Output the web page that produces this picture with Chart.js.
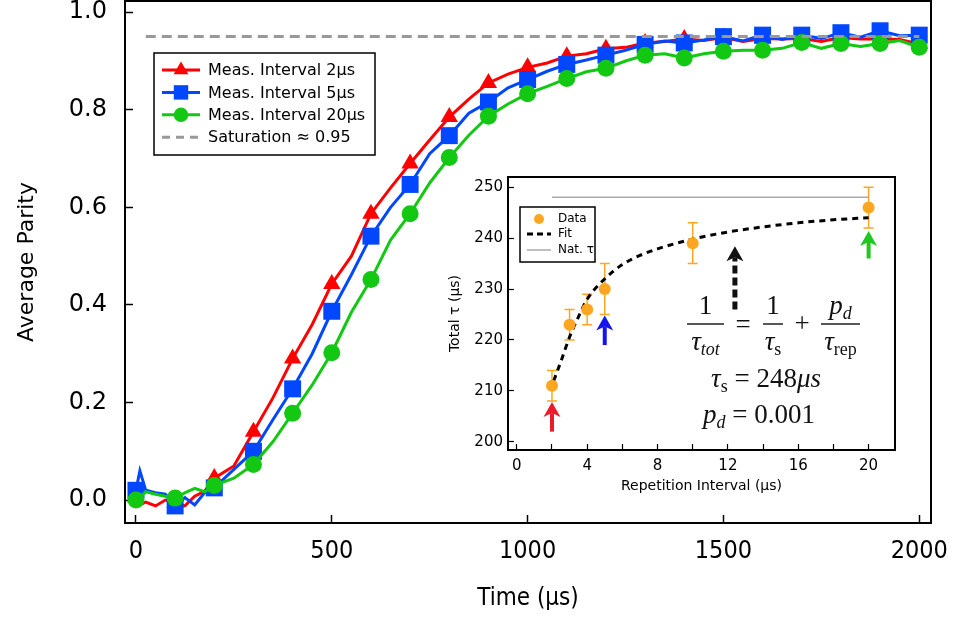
<!DOCTYPE html>
<html>
<head>
<meta charset="utf-8">
<script src="https://cdn.jsdelivr.net/npm/chart.js@4.4.1/dist/chart.umd.min.js"></script>
<style>
  html, body { margin: 0; padding: 0; background: #fff; }
  #wrap { position: relative; width: 955px; height: 617px; }
  #main { position: absolute; left: 0; top: 0; }
  #inset { position: absolute; left: 440px; top: 170px; }
</style>
</head>
<body>
<div id="wrap">
  <canvas id="main" width="955" height="617"></canvas>
  <canvas id="inset" width="480" height="330"></canvas>
</div>
<script>
// main panel: average parity vs time
const times = [0, 10, 25, 50, 75, 100, 125, 150, 175, 200, 250, 300, 350, 400, 450, 500, 550, 600, 650, 700,
  750, 800, 850, 900, 950, 1000, 1050, 1100, 1150, 1200, 1250, 1300, 1350, 1400, 1450, 1500, 1550, 1600,
  1650, 1700, 1750, 1800, 1850, 1900, 1950, 2000];
const parity2us = [0.005, -0.01, -0.004, -0.012, 0.0, -0.006, -0.012, 0.008, 0.018, 0.045, 0.07, 0.14, 0.21,
  0.29, 0.36, 0.443, 0.5, 0.587, 0.64, 0.69, 0.738, 0.785, 0.822, 0.855, 0.873, 0.887, 0.896, 0.91, 0.915,
  0.925, 0.928, 0.937, 0.94, 0.945, 0.942, 0.948, 0.94, 0.946, 0.945, 0.946, 0.94, 0.948, 0.945, 0.945, 0.944, 0.935];
const parity5us = [0.02, 0.06, 0.02, 0.015, 0.012, -0.012, 0.005, -0.01, 0.015, 0.025, 0.063, 0.1, 0.165,
  0.228, 0.3, 0.387, 0.462, 0.541, 0.6, 0.647, 0.71, 0.747, 0.793, 0.816, 0.845, 0.862, 0.879, 0.893, 0.902,
  0.912, 0.922, 0.934, 0.941, 0.937, 0.943, 0.95, 0.941, 0.953, 0.944, 0.953, 0.946, 0.958, 0.949, 0.962, 0.952, 0.953];
const parity20us = [0.0, 0.005, 0.017, 0.012, 0.008, 0.004, 0.015, 0.024, 0.017, 0.03, 0.045, 0.073, 0.12,
  0.178, 0.236, 0.302, 0.385, 0.452, 0.533, 0.587, 0.65, 0.702, 0.748, 0.787, 0.812, 0.833, 0.848, 0.864, 0.878,
  0.885, 0.9, 0.912, 0.915, 0.906, 0.915, 0.92, 0.922, 0.922, 0.926, 0.938, 0.926, 0.936, 0.93, 0.936, 0.942, 0.928];
const saturationLevel = 0.95;
const saturationSpan = [25, 2000];
const timeTicks = [0, 500, 1000, 1500, 2000];
const parityTicks = [0, 0.2, 0.4, 0.6, 0.8, 1.0];
const seriesNames = ['Meas. Interval 2µs', 'Meas. Interval 5µs', 'Meas. Interval 20µs', 'Saturation ≈ 0.95'];

// inset: total tau vs repetition interval
const repInterval = [2, 3, 4, 5, 10, 20];
const totalTau = [211, 223, 226, 230, 239, 246];
const tauErr = [3, 3, 3, 5, 4, 4];
const fitInterval = [2.1, 2.5, 3, 3.5, 4, 5, 6, 7, 8, 10, 12, 14, 16, 18, 20];
const fitTau = [212, 215.7, 220.6, 224.5, 228, 232, 234.8, 236.6, 237.9, 239.8, 241.2, 242.2, 243, 243.6, 244];
const naturalTau = 248;
const naturalSpan = [2, 20];
const repTicks = [0, 2, 4, 6, 8, 10, 12, 14, 16, 18, 20];
const tauTicks = [200, 210, 220, 230, 240, 250];
const arrowAt = [2, 5, 20, 12.4];
const arrowFrom = [202, 219, 236, 226];
const arrowTo = [207.8, 224.8, 241.4, 238.4];
const insetNames = ['Data', 'Fit', 'Nat. τ'];

const RED = '#ff0000', BLUE = '#0047ff', GREEN = '#12c812', ORANGE = '#ffa620', GREY = '#999999';
const SANS = 'DejaVu Sans', NARROW = 'DejaVu Sans Condensed';
Chart.defaults.font.family = SANS;
Chart.defaults.color = '#000';

function pts(xs, ys) {
  return xs.map((x, i) => ({ x: x, y: ys[i] }));
}
function markerAt(r) {
  return ctx => (times[ctx.dataIndex] % 100 === 0 ? r : 0);
}

function drawMarker(ctx, style, x, y, r, color) {
  ctx.fillStyle = color;
  ctx.beginPath();
  if (style === 'triangle') {
    ctx.moveTo(x, y - r);
    ctx.lineTo(x + r * 0.866, y + r / 2);
    ctx.lineTo(x - r * 0.866, y + r / 2);
    ctx.closePath();
  } else if (style === 'rect') {
    let s = r * Math.SQRT1_2;
    ctx.rect(x - s, y - s, 2 * s, 2 * s);
  } else {
    ctx.arc(x, y, r, 0, Math.PI * 2);
  }
  ctx.fill();
}

const mainFrame = {
  id: 'mainFrame',
  afterDraw(chart) {
    const ctx = chart.ctx, ca = chart.chartArea;
    ctx.save();
    ctx.strokeStyle = '#000';
    ctx.lineWidth = 2;
    ctx.beginPath();
    ctx.moveTo(ca.left, ca.top);
    ctx.lineTo(ca.right, ca.top);
    ctx.lineTo(ca.right, ca.bottom);
    ctx.stroke();

    // legend box
    const bx = 154, by = 53, bw = 221, bh = 102;
    ctx.fillStyle = '#fff';
    ctx.fillRect(bx, by, bw, bh);
    ctx.lineWidth = 1.5;
    ctx.strokeRect(bx, by, bw, bh);
    const styles = ['triangle', 'rect', 'circle'];
    const radii = [10, 12, 8.5];
    const cols = [RED, BLUE, GREEN];
    ctx.font = '16px "' + SANS + '"';
    ctx.textBaseline = 'middle';
    seriesNames.forEach((name, i) => {
      const y = 70 + i * 22.4;
      ctx.lineWidth = 3;
      if (i < 3) {
        ctx.strokeStyle = cols[i];
        ctx.setLineDash([]);
        ctx.beginPath(); ctx.moveTo(162, y); ctx.lineTo(200, y); ctx.stroke();
        drawMarker(ctx, styles[i], 181, y, radii[i] * 0.85, cols[i]);
      } else {
        ctx.strokeStyle = GREY;
        ctx.setLineDash([8, 6]);
        ctx.beginPath(); ctx.moveTo(162, y); ctx.lineTo(200, y); ctx.stroke();
        ctx.setLineDash([]);
      }
      ctx.fillStyle = '#000';
      ctx.fillText(name, 208, y + 1);
    });
    ctx.restore();
  }
};

new Chart(document.getElementById('main'), {
  type: 'line',
  data: {
    datasets: [
      { label: seriesNames[3], data: [{ x: saturationSpan[0], y: saturationLevel }, { x: saturationSpan[1], y: saturationLevel }],
        borderColor: GREY, borderWidth: 3, borderDash: [10, 6], pointRadius: 0, order: 0 },
      { label: seriesNames[2], data: pts(times, parity20us), borderColor: GREEN, backgroundColor: GREEN,
        borderWidth: 3, pointStyle: 'circle', pointRadius: markerAt(8.5), pointBorderWidth: 0, order: 1 },
      { label: seriesNames[1], data: pts(times, parity5us), borderColor: BLUE, backgroundColor: BLUE,
        borderWidth: 3, pointStyle: 'rect', pointRadius: markerAt(12), pointBorderWidth: 0, order: 2 },
      { label: seriesNames[0], data: pts(times, parity2us), borderColor: RED, backgroundColor: RED,
        borderWidth: 3, pointStyle: 'triangle', pointRadius: markerAt(10), pointBorderWidth: 0, order: 3 }
    ]
  },
  options: {
    responsive: false,
    animation: false,
    events: [],
    layout: { autoPadding: false, padding: { left: 0, right: 24, top: 1, bottom: 0 } },
    plugins: { legend: { display: false }, tooltip: { enabled: false } },
    scales: {
      x: {
        type: 'linear', min: -28, max: 2030,
        afterBuildTicks: s => { s.ticks = timeTicks.map(v => ({ value: v })); },
        afterFit: s => { s.height = 94; s.paddingLeft = 0; s.paddingRight = 0; },
        border: { color: '#000', width: 2 },
        grid: { drawOnChartArea: false, tickLength: -8, tickColor: '#000', tickWidth: 1.5 },
        ticks: { autoSkip: false, maxRotation: 0, padding: 21, font: { family: NARROW, size: 25 }, callback: v => String(v) },
        title: { display: true, text: 'Time (µs)', font: { family: NARROW, size: 24 }, padding: { top: 0, bottom: 4 } }
      },
      y: {
        min: -0.047, max: 1.023,
        afterBuildTicks: s => { s.ticks = parityTicks.map(v => ({ value: v })); },
        afterFit: s => { s.width = 125; s.paddingTop = 0; s.paddingBottom = 0; },
        border: { color: '#000', width: 2 },
        grid: { drawOnChartArea: false, tickLength: -8, tickColor: '#000', tickWidth: 1.5 },
        ticks: { padding: 26, font: { size: 24 }, callback: v => v.toFixed(1) },
        title: { display: true, text: 'Average Parity', font: { size: 22 }, padding: { top: 14, bottom: 0 } }
      }
    }
  },
  plugins: [mainFrame]
});

// ---- inset ----
const serif = '"Liberation Serif", "DejaVu Serif", serif';
const M = {
  it: 'italic 27px ' + serif,
  rm: '27px ' + serif,
  subIt: 'italic 18px ' + serif,
  subRm: '18px ' + serif
};
function runWidth(ctx, parts) {
  return parts.reduce((w, p) => { ctx.font = p[1]; return w + ctx.measureText(p[0]).width; }, 0);
}
function drawRun(ctx, parts, x, y) {
  parts.forEach(p => { ctx.font = p[1]; ctx.fillText(p[0], x, y + (p[2] || 0)); x += ctx.measureText(p[0]).width; });
}
function drawCentered(ctx, parts, cx, y) {
  drawRun(ctx, parts, cx - runWidth(ctx, parts) / 2, y);
}
function drawFrac(ctx, num, den, x0, x1, barY) {
  ctx.fillRect(x0, barY - 0.7, x1 - x0, 1.4);
  const cx = (x0 + x1) / 2;
  drawCentered(ctx, num, cx, barY - 10);
  drawCentered(ctx, den, cx, barY + 26);
}

const insetDecor = {
  id: 'insetDecor',
  beforeDatasetsDraw(chart) {
    const ctx = chart.ctx, xs = chart.scales.x, ys = chart.scales.y;
    ctx.save();
    ctx.strokeStyle = ORANGE;
    ctx.lineWidth = 1.5;
    repInterval.forEach((r, i) => {
      const x = xs.getPixelForValue(r);
      const y0 = ys.getPixelForValue(totalTau[i] - tauErr[i]);
      const y1 = ys.getPixelForValue(totalTau[i] + tauErr[i]);
      ctx.beginPath();
      ctx.moveTo(x, y0); ctx.lineTo(x, y1);
      ctx.moveTo(x - 5, y0); ctx.lineTo(x + 5, y0);
      ctx.moveTo(x - 5, y1); ctx.lineTo(x + 5, y1);
      ctx.stroke();
    });
    ctx.restore();
  },
  afterDatasetsDraw(chart) {
    const ctx = chart.ctx, xs = chart.scales.x, ys = chart.scales.y;
    const cols = ['#ea1c2c', '#1414f0', '#1ec81e', '#111'];
    ctx.save();
    arrowAt.forEach((a, i) => {
      const x = xs.getPixelForValue(a);
      const yb = ys.getPixelForValue(arrowFrom[i]);
      const yt = ys.getPixelForValue(arrowTo[i]);
      ctx.strokeStyle = cols[i];
      ctx.fillStyle = cols[i];
      ctx.lineWidth = i === 3 ? 5 : 4;
      ctx.setLineDash(i === 3 ? [8, 4] : []);
      ctx.beginPath();
      ctx.moveTo(x, yb); ctx.lineTo(x, yt + 11);
      ctx.stroke();
      ctx.setLineDash([]);
      ctx.beginPath();
      ctx.moveTo(x, yt);
      ctx.lineTo(x + 8.5, yt + 15);
      ctx.lineTo(x, yt + 11);
      ctx.lineTo(x - 8.5, yt + 15);
      ctx.closePath();
      ctx.fill();
    });
    ctx.restore();
  },
  afterDraw(chart) {
    const ctx = chart.ctx, ca = chart.chartArea;
    ctx.save();
    ctx.strokeStyle = '#000';
    ctx.lineWidth = 2;
    ctx.strokeRect(ca.left, ca.top, ca.right - ca.left, ca.bottom - ca.top);

    // legend
    ctx.lineWidth = 1.5;
    ctx.fillStyle = '#fff';
    ctx.fillRect(80, 37, 75, 55);
    ctx.strokeRect(80, 37, 75, 55);
    ctx.font = '12px "' + SANS + '"';
    ctx.textBaseline = 'middle';
    drawMarker(ctx, 'circle', 99, 49, 5, ORANGE);
    ctx.strokeStyle = '#000';
    ctx.lineWidth = 3;
    ctx.setLineDash([6, 4]);
    ctx.beginPath(); ctx.moveTo(87, 64); ctx.lineTo(111, 64); ctx.stroke();
    ctx.setLineDash([]);
    ctx.strokeStyle = '#aaa';
    ctx.lineWidth = 1.5;
    ctx.beginPath(); ctx.moveTo(87, 80); ctx.lineTo(111, 80); ctx.stroke();
    ctx.fillStyle = '#000';
    insetNames.forEach((n, i) => ctx.fillText(n, 118, [49, 64, 80][i]));

    // equation
    ctx.textBaseline = 'alphabetic';
    ctx.fillStyle = '#111';
    const barY = 154;
    drawFrac(ctx, [['1', M.rm]], [['τ', M.it], ['tot', M.subIt, 5]], 247, 284, barY);
    drawCentered(ctx, [['=', M.rm]], 303, barY + 9);
    drawFrac(ctx, [['1', M.rm]], [['τ', M.it], ['s', M.subRm, 5]], 323, 343, barY);
    drawCentered(ctx, [['+', M.rm]], 362, barY + 8);
    drawFrac(ctx, [['p', M.it], ['d', M.subIt, 5]], [['τ', M.it], ['rep', M.subRm, 5]], 381, 420, barY);
    drawCentered(ctx, [['τ', M.it], ['s', M.subRm, 5], [' = 248', M.rm], ['μs', M.it]], 326, 217);
    drawCentered(ctx, [['p', M.it], ['d', M.subIt, 5], [' = 0.001', M.rm]], 319, 253);
    ctx.restore();
  }
};

new Chart(document.getElementById('inset'), {
  type: 'line',
  data: {
    datasets: [
      { label: insetNames[0], data: pts(repInterval, totalTau), showLine: false, backgroundColor: ORANGE,
        pointRadius: 6, pointBorderWidth: 0, order: 0 },
      { label: insetNames[1], data: pts(fitInterval, fitTau), borderColor: '#000', borderWidth: 3,
        borderDash: [6, 5], pointRadius: 0, cubicInterpolationMode: 'monotone', order: 1 },
      { label: insetNames[2], data: naturalSpan.map(x => ({ x: x, y: naturalTau })), borderColor: '#aaa',
        borderWidth: 1.5, pointRadius: 0, order: 2 }
    ]
  },
  options: {
    responsive: false,
    animation: false,
    events: [],
    layout: { autoPadding: false, padding: { left: 0, right: 25, top: 7, bottom: 0 } },
    plugins: { legend: { display: false }, tooltip: { enabled: false } },
    scales: {
      x: {
        type: 'linear', min: -0.5, max: 21.5,
        afterBuildTicks: s => { s.ticks = repTicks.map(v => ({ value: v })); },
        afterFit: s => { s.height = 50; s.paddingLeft = 0; s.paddingRight = 0; },
        border: { color: '#000', width: 2 },
        grid: { drawOnChartArea: false, tickLength: -6, tickColor: '#000', tickWidth: 1.2 },
        ticks: { autoSkip: false, maxRotation: 0, padding: 13, font: { size: 15 }, callback: v => (v % 4 === 0 ? String(v) : '') },
        title: { display: true, text: 'Repetition Interval (µs)', font: { size: 14 }, padding: { top: 0, bottom: 5 } }
      },
      y: {
        min: 198.4, max: 252,
        afterBuildTicks: s => { s.ticks = tauTicks.map(v => ({ value: v })); },
        afterFit: s => { s.width = 68; s.paddingTop = 0; s.paddingBottom = 0; },
        border: { color: '#000', width: 2 },
        grid: { drawOnChartArea: false, tickLength: -6, tickColor: '#000', tickWidth: 1.2 },
        ticks: { padding: 11, font: { size: 15 }, callback: v => String(v) },
        title: { display: true, text: 'Total τ (µs)', font: { size: 14 }, padding: { top: 7, bottom: 0 } }
      }
    }
  },
  plugins: [insetDecor]
});
</script>
</body>
</html>
